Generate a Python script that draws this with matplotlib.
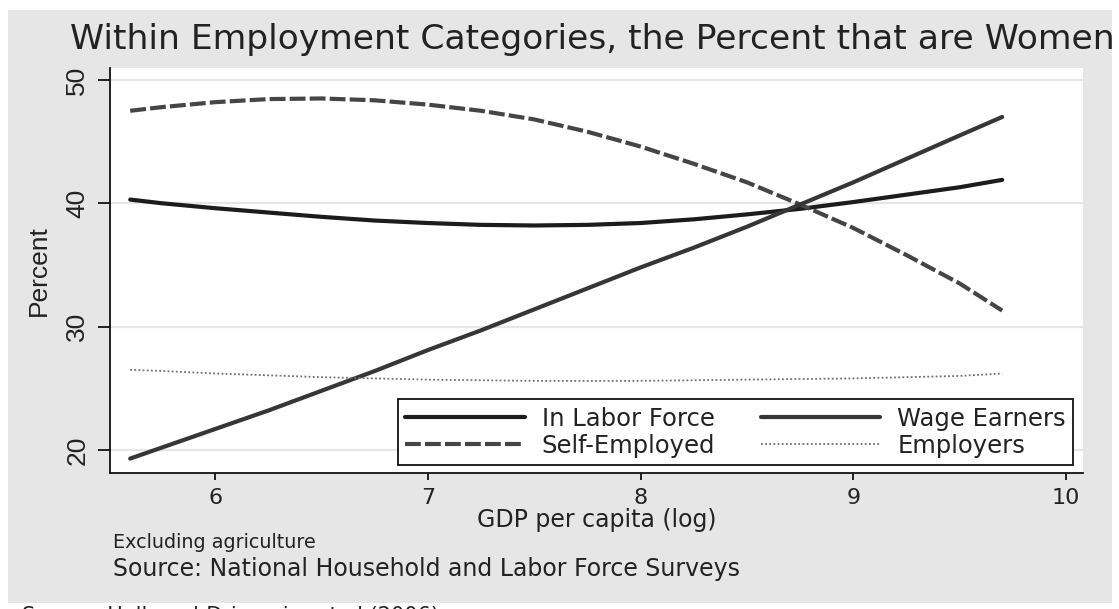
import matplotlib
matplotlib.use("Agg")
import matplotlib.pyplot as plt
from matplotlib.patches import Rectangle

# ---- data ----
gdp = [5.6, 5.75, 6.0, 6.25, 6.5, 6.75, 7.0, 7.25, 7.5, 7.75, 8.0, 8.25, 8.5, 8.75, 9.0,
       9.25, 9.5, 9.7]
in_labor_force = [40.3, 40.0, 39.6, 39.25, 38.9, 38.6, 38.4, 38.25, 38.2, 38.25, 38.4, 38.7,
                  39.1, 39.55, 40.1, 40.7, 41.3, 41.9]
self_employed = [47.5, 47.8, 48.2, 48.45, 48.5, 48.35, 48.0, 47.5, 46.8, 45.8, 44.6, 43.2,
                 41.7, 39.9, 38.0, 35.8, 33.5, 31.3]
wage_earners = [19.3, 20.2, 21.7, 23.2, 24.8, 26.4, 28.1, 29.7, 31.4, 33.1, 34.8, 36.4,
                38.1, 39.9, 41.7, 43.6, 45.5, 47.0]
employers = [26.5, 26.4, 26.2, 26.05, 25.9, 25.8, 25.7, 25.65, 25.6, 25.6, 25.6, 25.65,
             25.7, 25.75, 25.8, 25.9, 26.0, 26.2]
x_ticks = [6, 7, 8, 9, 10]
y_ticks = [20, 30, 40, 50]

W, H = 1119, 609
fig = plt.figure(figsize=(W / 100, H / 100), dpi=100, facecolor="white")

# grey graph region
bg = Rectangle((8 / W, 6 / H), 1104 / W, 593 / H, transform=fig.transFigure,
               facecolor="#e6e6e6", edgecolor="none", zorder=-10)
fig.patches.append(bg)

ax = fig.add_axes([110 / W, (H - 473) / H, (1083 - 110) / W, (473 - 68) / H], zorder=1)
ax.set_facecolor("white")
ax.set_xlim(5.505, 10.08)
ax.set_ylim(18.13, 50.97)

for y in y_ticks:
    ax.axhline(y, color="#e6e6e6", lw=1.6, zorder=1)

ax.plot(gdp, in_labor_force, color="#1c1c1c", lw=3.0, solid_capstyle="round", zorder=3,
        label="In Labor Force")
ax.plot(gdp, self_employed, color="#454545", lw=3.0, linestyle=(0, (3.8, 1.0)), zorder=3,
        label="Self-Employed")
ax.plot(gdp, wage_earners, color="#363636", lw=3.0, solid_capstyle="round", zorder=3,
        label="Wage Earners")
ax.plot(gdp, employers, color="#707070", lw=1.3, linestyle=(0, (1, 1.3)), zorder=3,
        label="Employers")

for s in ["top", "right"]:
    ax.spines[s].set_visible(False)
for s in ["left", "bottom"]:
    ax.spines[s].set_color("#111111")
    ax.spines[s].set_linewidth(1.3)

narrow = ["Liberation Sans Narrow", "DejaVu Sans Condensed", "Liberation Sans"]
wide = ["DejaVu Sans"]

ax.set_xticks(x_ticks)
ax.set_xticklabels([str(v) for v in x_ticks], fontsize=16, family=wide, color="#222222")
ax.set_yticks(y_ticks)
ax.set_yticklabels([str(v) for v in y_ticks], fontsize=19, family=narrow, rotation=90,
                   va="center", color="#222222")
ax.tick_params(axis="x", length=5, width=1.3, pad=6, color="#111111")
ax.tick_params(axis="y", length=9, width=1.3, pad=6, color="#111111")

ax.set_xlabel("GDP per capita (log)", fontsize=17, family=wide, color="#222222", labelpad=0)
ax.set_ylabel("Percent", fontsize=19, family=narrow, color="#222222", labelpad=10)

leg = ax.legend(ncol=2, loc="lower right", bbox_to_anchor=(0.99, 0.02), borderaxespad=0,
                fancybox=False, framealpha=1, edgecolor="#111111",
                prop={"family": wide, "size": 17.5}, handlelength=4.9, handletextpad=0.7,
                columnspacing=1.9, labelspacing=0.12, borderpad=0.3)
leg.get_frame().set_linewidth(1.3)
for t in leg.get_texts():
    t.set_color("#222222")

fig.text(70 / W, 1 - 40 / H, "Within Employment Categories, the Percent that are Women",
         fontsize=24.8, family=wide, color="#222222", ha="left", va="center")
fig.text(113 / W, 1 - 543 / H, "Excluding agriculture", fontsize=13.8, family=wide,
         color="#222222", ha="left", va="center")
fig.text(113 / W, 1 - 569 / H, "Source: National Household and Labor Force Surveys",
         fontsize=17, family=wide, color="#222222", ha="left", va="center")
fig.text(22 / W, 1 - 616 / H, "Source: Hallward-Driemeier et al (2006)", fontsize=15,
         family=wide, color="#222222", ha="left", va="center")

fig.savefig("out.png", dpi=100, facecolor="white")
